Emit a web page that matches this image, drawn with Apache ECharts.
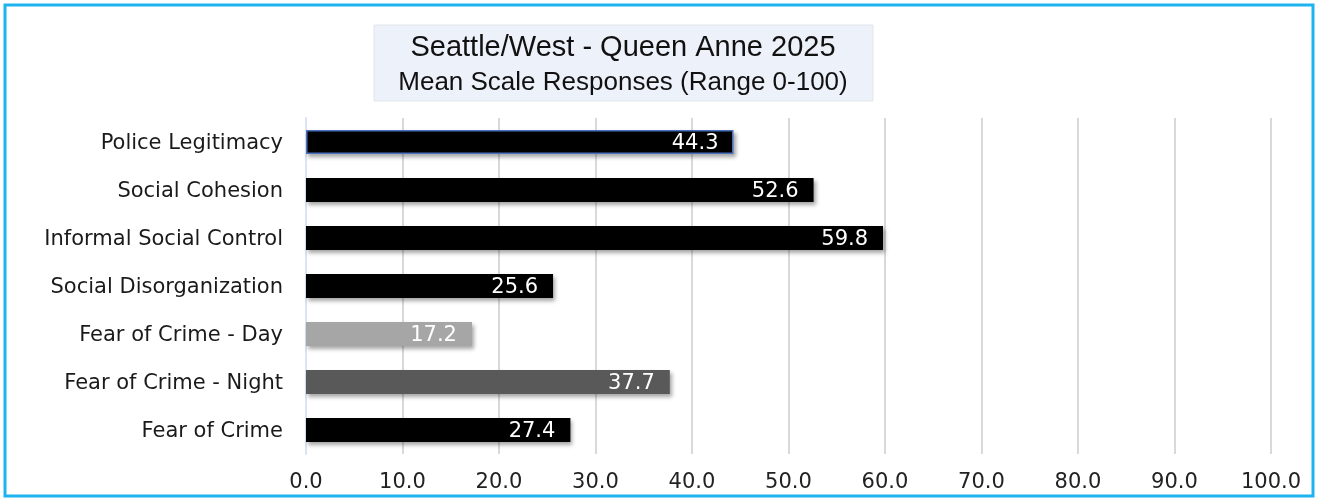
<!DOCTYPE html>
<html>
<head>
<meta charset="utf-8">
<script src="https://cdn.jsdelivr.net/npm/echarts@6/dist/echarts.min.js"></script>
<style>
  html, body { margin: 0; padding: 0; background: #ffffff; }
  #chart { width: 1318px; height: 500px; }
</style>
</head>
<body>
<div id="chart"></div>
<script>
// Scale names, top to bottom as drawn
const categories = [
  'Police Legitimacy',
  'Social Cohesion',
  'Informal Social Control',
  'Social Disorganization',
  'Fear of Crime - Day',
  'Fear of Crime - Night',
  'Fear of Crime'
];
// Mean scale scores (0-100)
const meanScores = [44.3, 52.6, 59.8, 25.6, 17.2, 37.7, 27.4];
// Fill per bar
const barColors = ['#000000', '#000000', '#000000', '#000000', '#a6a6a6', '#595959', '#000000'];

const titleLine1 = 'Seattle/West - Queen Anne 2025';
const titleLine2 = 'Mean Scale Responses (Range 0-100)';

const labelFont = '"DejaVu Sans", "Noto Sans", sans-serif';

const chart = echarts.init(document.getElementById('chart'), null, { renderer: 'canvas' });

// Category axis is inverted so the first entry sits on top
const data = meanScores.map((v, i) => ({
  value: v,
  itemStyle: Object.assign(
    { color: barColors[i] },
    i === 0 ? { borderColor: '#4a72c0', borderWidth: 1.5 } : {}
  )
}));

chart.setOption({
  animation: false,
  backgroundColor: '#ffffff',
  grid: { left: 306, right: 47, top: 118, bottom: 46, containLabel: false },
  xAxis: {
    type: 'value',
    min: 0,
    max: 100,
    interval: 10,
    axisLine: { show: false },
    axisTick: { show: false },
    splitLine: { show: true, lineStyle: { color: '#d9d9d9', width: 2 } },
    axisLabel: {
      formatter: v => v.toFixed(1),
      color: '#222222',
      fontFamily: labelFont,
      fontSize: 21,
      margin: 18
    }
  },
  yAxis: {
    type: 'category',
    data: categories,
    inverse: true,
    axisLine: { show: true, lineStyle: { color: '#dbe4f3', width: 2 } },
    axisTick: { show: false },
    axisLabel: {
      margin: 23,
      formatter: v => '{c|' + v + '}',
      rich: {
        c: {
          color: '#1a1a1a',
          fontFamily: labelFont,
          fontSize: 21,
          padding: [4, 0, 0, 0]
        }
      }
    }
  },
  series: [{
    type: 'bar',
    data: data,
    barWidth: '50%',
    itemStyle: {
      shadowColor: 'rgba(0,0,0,0.35)',
      shadowBlur: 4,
      shadowOffsetX: 2,
      shadowOffsetY: 3
    },
    label: {
      show: true,
      position: 'insideRight',
      distance: 15,
      offset: [0, 2],
      color: '#ffffff',
      fontFamily: labelFont,
      fontSize: 21,
      formatter: p => p.value.toFixed(1)
    }
  }],
  graphic: [
    {
      type: 'rect',
      shape: { x: 5, y: 5, width: 1308, height: 491 },
      style: { fill: 'none', stroke: '#1db3ef', lineWidth: 3 },
      silent: true
    },
    {
      type: 'rect',
      shape: { x: 374, y: 25, width: 499, height: 76 },
      style: { fill: '#edf1f9', stroke: '#e1e5ea', lineWidth: 1 },
      silent: true
    },
    {
      type: 'text',
      x: 623, y: 48,
      style: {
        text: titleLine1,
        fill: '#111111',
        font: '29px "Liberation Sans", Arial, sans-serif',
        align: 'center',
        verticalAlign: 'middle'
      }
    },
    {
      type: 'text',
      x: 623, y: 83,
      style: {
        text: titleLine2,
        fill: '#111111',
        font: '26px "Liberation Sans", Arial, sans-serif',
        align: 'center',
        verticalAlign: 'middle'
      }
    }
  ]
});
</script>
</body>
</html>
